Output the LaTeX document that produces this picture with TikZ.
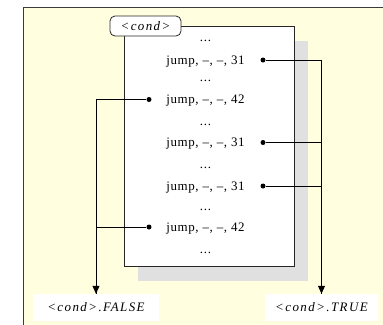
\documentclass[tikz,border=0pt]{standalone}
\usepackage{fontspec}
\setmainfont{Liberation Serif}
\newfontfamily\spc[LetterSpace=5]{Liberation Serif}
\newfontfamily\spci[LetterSpace=11]{Liberation Serif}
\usetikzlibrary{arrows.meta,shadows}
\definecolor{bgyellow}{HTML}{FFFFE0}
\definecolor{shgray}{HTML}{E0E0E0}
\definecolor{framegray}{HTML}{3A3A3A}
\begin{document}
\begin{tikzpicture}[x=1bp,y=-1bp,
  row/.style={anchor=base, font=\fontsize{13}{15}\selectfont\spc, inner sep=0pt},
  lab/.style={fill=white, font=\fontsize{13}{15}\selectfont\spci\itshape, text height=8.6bp, text depth=0bp, minimum height=27bp, inner sep=0pt},
  conn/.style={line width=1bp, black},
  tip/.style={-{Triangle[width=7bp,length=8bp]}},
  dotmark/.style={circle, fill=black, inner sep=0pt, minimum size=5bp},
]
\useasboundingbox (0,0) rectangle (383,325);
\fill[bgyellow] (23.5,7.5) rectangle (383,325);
\draw[framegray, line width=1.5bp] (23.5,325) -- (23.5,7.5) -- (383,7.5);

\node[draw=black!85, fill=white, line width=0.8bp, minimum width=170bp, minimum height=240bp, inner sep=0pt,
  general shadow={fill=shgray, shadow xshift=14bp, shadow yshift=-15bp}] (box) at (209,146) {};

\node[draw=black!85, fill=white, rounded corners=5bp, line width=0.8bp, minimum width=71bp, minimum height=20bp,
  inner sep=0pt, font=\fontsize{13}{15}\selectfont\spci\itshape, text height=8.8bp, text depth=0bp] (cond) at (145.5,26) {<cond>};

\node[row] (t1) at (205.5,41.2) {...};
\node[row] (j1) at (205.5,64.4) {jump, –, –, 31};
\node[row] (t2) at (205.5,81.7) {...};
\node[row] (j2) at (205.5,103.9) {jump, –, –, 42};
\node[row] (t3) at (205.5,125.7) {...};
\node[row] (j3) at (205.5,146.9) {jump, –, –, 31};
\node[row] (t4) at (205.5,168.2) {...};
\node[row] (j4) at (205.5,190.4) {jump, –, –, 31};
\node[row] (t5) at (205.5,210.7) {...};
\node[row] (j5) at (205.5,231.4) {jump, –, –, 42};
\node[row] (t6) at (205.5,253.7) {...};

\node[lab, minimum width=126bp] (false) at (96,307.5) {<cond>.FALSE};
\node[lab, minimum width=113bp] (true) at (321.5,307.5) {<cond>.TRUE};

\node[dotmark] (r1) at (263,60) {};
\node[dotmark] (l2) at (149,99.5) {};
\node[dotmark] (r3) at (263,142.5) {};
\node[dotmark] (r4) at (263,186) {};
\node[dotmark] (l5) at (149,227) {};

\draw[conn] (r3) -| (true.north);
\draw[conn] (r4) -| (true.north);
\draw[conn,tip] (r1) -| (true.north);
\draw[conn] (l5) -| (false.north);
\draw[conn,tip] (l2) -| (false.north);
\end{tikzpicture}
\end{document}
